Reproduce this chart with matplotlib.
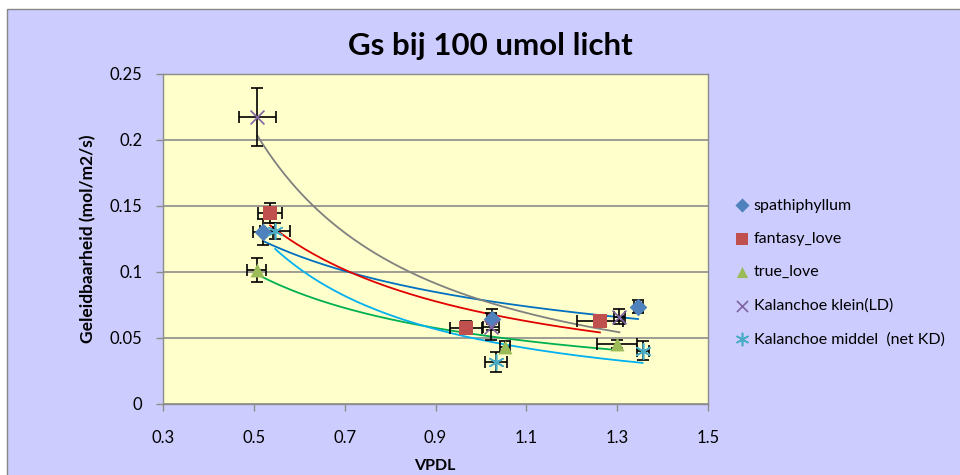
import numpy as np
import matplotlib
matplotlib.use("Agg")
import matplotlib.pyplot as plt
from matplotlib.patches import Rectangle

plt.rcParams['font.family'] = ['Lato', 'DejaVu Sans']

series_names = ["spathiphyllum", "fantasy_love", "true_love",
                "Kalanchoe klein(LD)", "Kalanchoe middel  (net KD)"]

spath_x = [0.520, 1.024, 1.346]
spath_y = [0.1305, 0.0642, 0.0737]
spath_xerr = [0.022, 0.010, 0.010]
spath_yerr = [0.010, 0.008, 0.005]

fantasy_x = [0.536, 0.967, 1.262]
fantasy_y = [0.1449, 0.0578, 0.0631]
fantasy_xerr = [0.026, 0.036, 0.050]
fantasy_yerr = [0.0076, 0.005, 0.003]

true_x = [0.506, 1.053, 1.299]
true_y = [0.1015, 0.0434, 0.0455]
true_xerr = [0.020, 0.010, 0.044]
true_yerr = [0.009, 0.004, 0.003]

klein_x = [0.508, 1.022, 1.305]
klein_y = [0.2177, 0.0586, 0.0662]
klein_xerr = [0.040, 0.018, 0.013]
klein_yerr = [0.022, 0.010, 0.0057]

middel_x = [0.547, 1.033, 1.356]
middel_y = [0.1313, 0.0320, 0.0404]
middel_xerr = [0.033, 0.024, 0.013]
middel_yerr = [0.006, 0.0076, 0.007]

marker_colors = ["#4F81BD", "#C0504D", "#9BBB59", "#8064A2", "#4BACC6"]
trend_colors = ["#0070C0", "#E00000", "#00B050", "#808080", "#00B0F0"]
markers = ["D", "s", "^", "x", (6, 2, 0)]
msizes = [9, 10, 10, 10, 11]

xs = [spath_x, fantasy_x, true_x, klein_x, middel_x]
ys = [spath_y, fantasy_y, true_y, klein_y, middel_y]
xerrs = [spath_xerr, fantasy_xerr, true_xerr, klein_xerr, middel_xerr]
yerrs = [spath_yerr, fantasy_yerr, true_yerr, klein_yerr, middel_yerr]

x_ticks = [0.3, 0.5, 0.7, 0.9, 1.1, 1.3, 1.5]
y_ticks = [0, 0.05, 0.1, 0.15, 0.2, 0.25]

fig = plt.figure(figsize=(9.6, 4.75), dpi=100)
fig.patch.set_facecolor("white")
fig.patches.append(Rectangle((7/960, -0.01), 1.0, 1 - 9/475 + 0.01,
                             transform=fig.transFigure, facecolor="#CCCCFF",
                             edgecolor="#888888", linewidth=1.0, zorder=-10))

ax = fig.add_axes([163/960, 1 - 404/475, (708-163)/960, (404-74)/475])
ax.set_zorder(5)
ax.set_facecolor("#FFFFCC")
ax.set_xlim(0.3, 1.5)
ax.set_ylim(0, 0.25)
ax.set_xticks(x_ticks)
ax.set_xticklabels([str(t) for t in x_ticks])
ax.set_yticks(y_ticks)
ax.set_yticklabels(["0", "0.05", "0.1", "0.15", "0.2", "0.25"])
ax.yaxis.grid(True, color="#8C8C8C", linewidth=1.2)
ax.set_axisbelow(True)
for s in ax.spines.values():
    s.set_color("#8C8C8C")
    s.set_linewidth(1.0)
ax.tick_params(axis="both", colors="#8C8C8C", labelcolor="black",
               labelsize=12, length=5, width=1)
ax.tick_params(axis="x", pad=14)
ax.tick_params(axis="y", pad=10)

handles = []
for i in range(5):
    x = np.array(xs[i]); y = np.array(ys[i])
    # power trendline y = a * x^b
    b, loga = np.polyfit(np.log(x), np.log(y), 1)
    xx = np.linspace(x.min(), x.max(), 200)
    ax.plot(xx, np.exp(loga) * xx ** b, color=trend_colors[i], lw=1.3, zorder=2)
    ax.errorbar(x, y, xerr=xerrs[i], yerr=yerrs[i], fmt="none", ecolor="black",
                elinewidth=1.2, capsize=4, capthick=1.2, zorder=3)
    if markers[i] in ("x", (6, 2, 0)):
        h = ax.scatter(x, y, marker=markers[i], s=msizes[i]**2, color=marker_colors[i],
                       linewidths=1.2, zorder=4, label=series_names[i])
    else:
        h = ax.scatter(x, y, marker=markers[i], s=msizes[i]**2, color=marker_colors[i],
                       linewidths=0, zorder=4, label=series_names[i])
    handles.append(h)

fig.text(490/960, 1 - 46/475, "Gs bij 100 umol licht", ha="center", va="center",
         fontsize=22.5, fontweight="bold")
fig.text(88/960, 1 - 239/475, "Geleidbaarheid (mol/m2/s)", ha="center", va="center",
         rotation=90, fontsize=12.5, fontweight="bold")
fig.text(435/960, 1 - 466/475, "VPDL", ha="center", va="center",
         fontsize=11.5, fontweight="bold")

leg = fig.legend(handles=handles, labels=series_names, loc="upper left",
                 bbox_to_anchor=(721/960, 1 - 184/475), frameon=False,
                 fontsize=11.5, handlelength=0.8, handletextpad=0.35,
                 labelspacing=1.2, scatterpoints=1, markerscale=0.8)

fig.savefig("out.png", dpi=100, facecolor=fig.get_facecolor())
